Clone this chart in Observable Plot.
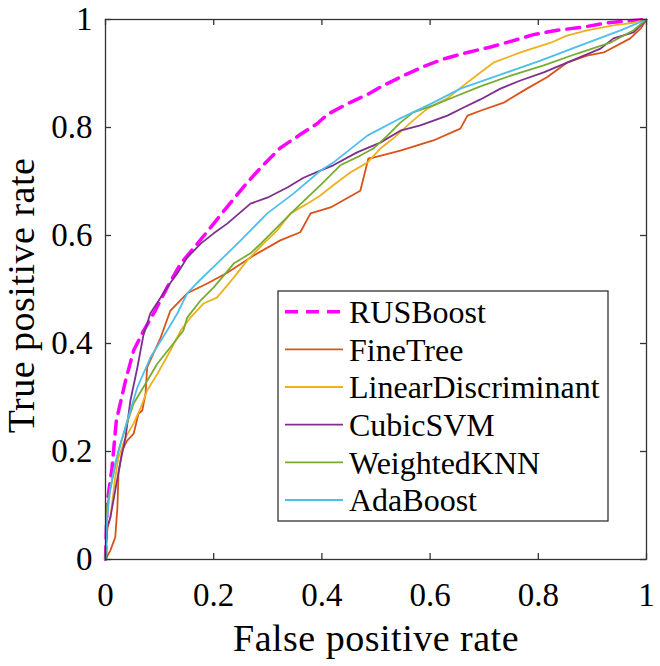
<!DOCTYPE html>
<html>
<head>
<meta charset="utf-8">
<script src="https://cdn.jsdelivr.net/npm/d3@7"></script>
<script src="https://cdn.jsdelivr.net/npm/@observablehq/plot@0.6"></script>
<style>
  html, body { margin: 0; padding: 0; background: #fff; }
</style>
</head>
<body>
<div id="chart"></div>
<script>
// ---- data ----
const seriesNames = ["RUSBoost", "FineTree", "LinearDiscriminant", "CubicSVM", "WeightedKNN", "AdaBoost"];
const seriesColors = ["#FF00FF", "#D95319", "#EDB120", "#7E2F8E", "#77AC30", "#4DBEEE"];

const rusBoost = [[0,0],[0.003,0.104],[0.012,0.169],[0.020,0.257],[0.037,0.331],[0.052,0.387],[0.068,0.419],[0.092,0.461],[0.114,0.504],[0.139,0.548],[0.170,0.585],[0.200,0.622],[0.237,0.668],[0.262,0.698],[0.292,0.731],[0.323,0.762],[0.360,0.787],[0.391,0.807],[0.410,0.824],[0.447,0.844],[0.484,0.861],[0.514,0.878],[0.551,0.896],[0.588,0.913],[0.625,0.927],[0.669,0.939],[0.712,0.949],[0.754,0.961],[0.791,0.972],[0.835,0.980],[0.884,0.986],[0.928,0.994],[0.976,0.998],[1,1]];
const fineTree = [[0,0],[0.009,0.017],[0.018,0.041],[0.022,0.096],[0.024,0.159],[0.031,0.202],[0.040,0.220],[0.052,0.233],[0.061,0.270],[0.068,0.276],[0.074,0.307],[0.077,0.356],[0.083,0.369],[0.102,0.411],[0.120,0.461],[0.151,0.493],[0.188,0.511],[0.225,0.531],[0.274,0.563],[0.323,0.591],[0.360,0.606],[0.379,0.641],[0.416,0.652],[0.471,0.683],[0.486,0.743],[0.495,0.744],[0.545,0.757],[0.606,0.776],[0.656,0.798],[0.669,0.822],[0.693,0.831],[0.736,0.846],[0.779,0.872],[0.816,0.893],[0.853,0.920],[0.890,0.933],[0.921,0.939],[0.970,0.965],[0.989,0.983],[1,1]];
const linearDiscriminant = [[0,0],[0.003,0.054],[0.009,0.078],[0.018,0.152],[0.024,0.189],[0.037,0.226],[0.052,0.252],[0.065,0.281],[0.077,0.313],[0.096,0.344],[0.120,0.387],[0.139,0.424],[0.157,0.448],[0.181,0.474],[0.206,0.485],[0.237,0.522],[0.262,0.554],[0.292,0.585],[0.317,0.609],[0.342,0.641],[0.373,0.659],[0.397,0.674],[0.421,0.693],[0.453,0.717],[0.484,0.735],[0.508,0.761],[0.532,0.780],[0.564,0.809],[0.595,0.835],[0.632,0.854],[0.662,0.878],[0.693,0.902],[0.717,0.920],[0.767,0.939],[0.823,0.957],[0.853,0.970],[0.890,0.980],[0.939,0.989],[0.976,0.994],[1,1]];
const cubicSVM = [[0,0],[0.003,0.059],[0.009,0.078],[0.018,0.128],[0.028,0.183],[0.037,0.226],[0.046,0.294],[0.059,0.356],[0.070,0.415],[0.083,0.456],[0.102,0.485],[0.114,0.504],[0.133,0.530],[0.151,0.559],[0.176,0.585],[0.200,0.604],[0.225,0.622],[0.268,0.659],[0.299,0.670],[0.336,0.689],[0.366,0.707],[0.397,0.720],[0.421,0.730],[0.465,0.754],[0.508,0.772],[0.545,0.794],[0.582,0.804],[0.632,0.822],[0.662,0.837],[0.693,0.852],[0.730,0.872],[0.767,0.887],[0.810,0.902],[0.841,0.915],[0.872,0.928],[0.915,0.946],[0.939,0.965],[0.976,0.976],[1,1]];
const weightedKNN = [[0,0],[0.002,0.096],[0.015,0.159],[0.024,0.202],[0.037,0.244],[0.052,0.289],[0.070,0.319],[0.096,0.363],[0.120,0.393],[0.144,0.424],[0.151,0.448],[0.176,0.480],[0.200,0.504],[0.237,0.548],[0.268,0.567],[0.287,0.585],[0.317,0.615],[0.348,0.646],[0.373,0.670],[0.397,0.693],[0.434,0.730],[0.471,0.748],[0.495,0.761],[0.521,0.785],[0.545,0.809],[0.569,0.828],[0.606,0.841],[0.643,0.856],[0.693,0.876],[0.749,0.896],[0.810,0.915],[0.872,0.937],[0.933,0.957],[0.976,0.980],[1,1]];
const adaBoost = [[0,0],[0.003,0.078],[0.009,0.133],[0.018,0.178],[0.028,0.215],[0.040,0.257],[0.059,0.319],[0.083,0.374],[0.114,0.424],[0.133,0.456],[0.151,0.493],[0.170,0.513],[0.206,0.548],[0.250,0.591],[0.299,0.641],[0.348,0.678],[0.397,0.720],[0.421,0.735],[0.484,0.785],[0.545,0.817],[0.606,0.846],[0.656,0.872],[0.730,0.898],[0.804,0.924],[0.878,0.952],[0.952,0.980],[1,1]];

const seriesData = [rusBoost, fineTree, linearDiscriminant, cubicSVM, weightedKNN, adaBoost];

const xTicks = [0, 0.2, 0.4, 0.6, 0.8, 1];
const xTickLabels = ["0", "0.2", "0.4", "0.6", "0.8", "1"];
const yTicks = [0, 0.2, 0.4, 0.6, 0.8, 1];
const yTickLabels = ["0", "0.2", "0.4", "0.6", "0.8", "1"];
const xLabel = "False positive rate";
const yLabel = "True positive rate";

// ---- layout ----
const W = 660, H = 666;
const mL = 105, mR = 14, mT = 19, mB = 107;
const plotW = W - mL - mR, plotH = H - mT - mB;
const tickLen = 6;
const axisColor = "#333";
const serif = "'Liberation Serif', 'Times New Roman', serif";

const rows = seriesNames.flatMap((name, i) =>
  seriesData[i].map(([fpr, tpr]) => ({model: name, fpr, tpr})));

const xLabelMap = new Map(xTicks.map((t, i) => [t, xTickLabels[i]]));
const yLabelMap = new Map(yTicks.map((t, i) => [t, yTickLabels[i]]));

const lineMarks = seriesNames.map((name, i) =>
  Plot.line(rows.filter(d => d.model === name), {
    x: "fpr", y: "tpr",
    stroke: seriesColors[i],
    strokeWidth: name === "RUSBoost" ? 3.5 : 1.8,
    strokeDasharray: name === "RUSBoost" ? "13,8" : null,
    strokeLinejoin: "round"
  }));

const chart = Plot.plot({
  width: W, height: H,
  marginLeft: mL, marginRight: mR, marginTop: mT, marginBottom: mB,
  style: {fontFamily: serif, background: "#fff", color: "#000"},
  x: {domain: [0, 1], axis: null},
  y: {domain: [0, 1], axis: null},
  marks: [
    ...lineMarks,
    Plot.frame({stroke: axisColor, strokeWidth: 1.3}),
    Plot.tickX(xTicks, {x: d => d, insetTop: plotH - tickLen, stroke: axisColor, strokeWidth: 1.3}),
    Plot.tickX(xTicks, {x: d => d, insetBottom: plotH - tickLen, stroke: axisColor, strokeWidth: 1.3}),
    Plot.tickY(yTicks, {y: d => d, insetRight: plotW - tickLen, stroke: axisColor, strokeWidth: 1.3}),
    Plot.tickY(yTicks, {y: d => d, insetLeft: plotW - tickLen, stroke: axisColor, strokeWidth: 1.3}),
    Plot.axisX(xTicks, {anchor: "bottom", tickSize: 0, tickPadding: 23, fontSize: 33, fill: "#000",
      tickFormat: d => xLabelMap.get(d), label: null}),
    Plot.axisY(yTicks, {anchor: "left", tickSize: 0, tickPadding: 13, fontSize: 33, fill: "#000",
      tickFormat: d => yLabelMap.get(d), label: null}),
    Plot.text([xLabel], {frameAnchor: "bottom", lineAnchor: "middle", textAnchor: "middle", dy: 79, fontSize: 38, fill: "#000", text: d => d}),
    Plot.text([yLabel], {frameAnchor: "left", lineAnchor: "middle", textAnchor: "middle", rotate: -90, dx: -84, dy: 6, fontSize: 38, fill: "#000", text: d => d})
  ]
});

// slight tracking on the axis titles to match the wide MATLAB Times rendering
d3.select(chart).selectAll("text").filter(function() {
  const t = d3.select(this).text();
  return t === xLabel || t === yLabel;
}).attr("letter-spacing", "0.5px");

// ---- legend (MATLAB-style box inside the axes) ----
const svg = d3.select(chart);
const lg = {x: 278, y: 291, w: 330, h: 230, row0: 20.7, step: 37.66, lineX1: 7, lineX2: 65, textX: 71, fontSize: 32};
const g = svg.append("g").attr("transform", `translate(${lg.x},${lg.y})`);
g.append("rect").attr("x", 0).attr("y", 0).attr("width", lg.w).attr("height", lg.h)
  .attr("fill", "#fff").attr("stroke", axisColor).attr("stroke-width", 1.3);
seriesNames.forEach((name, i) => {
  const cy = lg.row0 + i * lg.step;
  g.append("line").attr("x1", lg.lineX1).attr("x2", lg.lineX2).attr("y1", cy).attr("y2", cy)
    .attr("stroke", seriesColors[i])
    .attr("stroke-width", name === "RUSBoost" ? 3.5 : 1.8)
    .attr("stroke-dasharray", name === "RUSBoost" ? "13,8" : null);
  g.append("text").attr("x", lg.textX).attr("y", cy).attr("dy", "0.35em")
    .attr("text-anchor", "start")
    .attr("font-family", serif).attr("font-size", lg.fontSize).attr("fill", "#000")
    .text(name);
});

document.getElementById("chart").appendChild(chart);
</script>
</body>
</html>
